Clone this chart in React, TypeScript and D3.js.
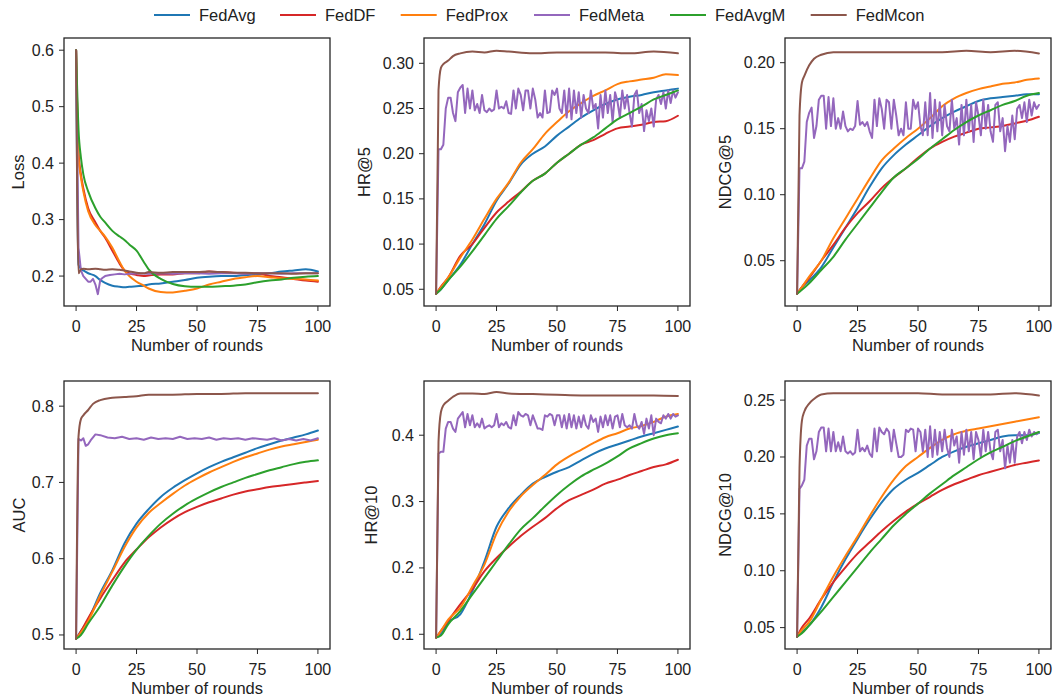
import React from "react";
import * as d3 from "d3";

// ---------- data ----------
const METHODS = ["FedAvg", "FedDF", "FedProx", "FedMeta", "FedAvgM", "FedMcon"];
const COLORS = ["#1f77b4", "#d62728", "#ff7f0e", "#9467bd", "#2ca02c", "#8c564b"];
const X_TICKS = [0, 25, 50, 75, 100];

const ROUNDS_SMOOTH = [0, 2, 5, 10, 15, 20, 25, 30, 35, 40, 45, 50, 55, 60, 65, 70, 75, 80, 85, 90, 95, 100];
const ROUNDS_FAST = [0, 1, 2, 3, 5, 7, 10, 15, 20, 25, 30, 40, 50, 60, 70, 80, 90, 100];
const ROUNDS_LOSS = [0, 1, 2, 3, 5, 8, 10, 12, 15, 18, 20, 22, 25, 28, 30, 35, 40, 45, 50, 55, 60, 65, 70, 75, 80, 85, 90, 95, 100];
const ROUNDS_LOSS_META = [0, 1, 2, 3, 4, 5, 6, 7, 8, 9, 10, 11, 12, 14, 16, 18, 20, 25, 30, 35, 40, 45, 50, 55, 60, 65, 70, 75, 80, 85, 90, 95, 100];
const ROUNDS_AUC_META = [0, 1, 2, 3, 4, 5, 6, 8, 10, 13, 16, 19, 22, 25, 28, 31, 34, 37, 40, 43, 46, 49, 52, 55, 58, 61, 64, 67, 70, 73, 76, 79, 82, 85, 88, 91, 94, 97, 100];
const ROUNDS_EVERY = d3.range(0, 101);

// Loss
const LOSS_FEDAVG = [0.6, 0.22, 0.213, 0.21, 0.205, 0.2, 0.193, 0.188, 0.183, 0.181, 0.18, 0.181, 0.182, 0.183, 0.185, 0.187, 0.19, 0.193, 0.197, 0.199, 0.2, 0.2, 0.202, 0.203, 0.205, 0.208, 0.21, 0.212, 0.208];
const LOSS_FEDDF = [0.6, 0.42, 0.38, 0.355, 0.32, 0.295, 0.28, 0.268, 0.245, 0.222, 0.21, 0.205, 0.202, 0.2, 0.201, 0.203, 0.203, 0.205, 0.205, 0.208, 0.207, 0.206, 0.205, 0.205, 0.2, 0.198, 0.195, 0.192, 0.19];
const LOSS_FEDPROX = [0.6, 0.41, 0.375, 0.35, 0.315, 0.29, 0.28, 0.27, 0.25, 0.225, 0.21, 0.2, 0.19, 0.183, 0.178, 0.172, 0.171, 0.174, 0.178, 0.185, 0.19, 0.195, 0.198, 0.2, 0.198, 0.196, 0.195, 0.194, 0.192];
const LOSS_FEDMETA = [0.6, 0.25, 0.21, 0.2, 0.195, 0.19, 0.19, 0.195, 0.185, 0.168, 0.193, 0.197, 0.2, 0.202, 0.203, 0.204, 0.203, 0.205, 0.204, 0.205, 0.204, 0.205, 0.205, 0.204, 0.205, 0.205, 0.204, 0.205, 0.205, 0.204, 0.205, 0.205, 0.205];
const LOSS_FEDAVGM = [0.6, 0.46, 0.41, 0.38, 0.35, 0.32, 0.305, 0.295, 0.28, 0.27, 0.264, 0.256, 0.245, 0.225, 0.212, 0.195, 0.186, 0.182, 0.181, 0.181, 0.182, 0.183, 0.185, 0.189, 0.192, 0.194, 0.197, 0.199, 0.2];
const LOSS_FEDMCON = [0.6, 0.205, 0.212, 0.213, 0.212, 0.213, 0.212, 0.211, 0.212, 0.211, 0.21, 0.208, 0.206, 0.205, 0.207, 0.206, 0.207, 0.207, 0.207, 0.208, 0.207, 0.206, 0.206, 0.205, 0.205, 0.205, 0.204, 0.205, 0.205];

// HR@5
const HR5_FEDAVG = [0.045, 0.05, 0.06, 0.077, 0.1, 0.122, 0.148, 0.167, 0.188, 0.2, 0.208, 0.22, 0.23, 0.24, 0.248, 0.255, 0.26, 0.263, 0.265, 0.268, 0.27, 0.272];
const HR5_FEDDF = [0.045, 0.053, 0.063, 0.087, 0.1, 0.118, 0.135, 0.147, 0.158, 0.17, 0.178, 0.19, 0.2, 0.21, 0.215, 0.222, 0.228, 0.23, 0.232, 0.235, 0.236, 0.242];
const HR5_FEDPROX = [0.045, 0.052, 0.063, 0.085, 0.105, 0.128, 0.15, 0.168, 0.19, 0.205, 0.222, 0.235, 0.247, 0.256, 0.264, 0.27, 0.277, 0.28, 0.282, 0.284, 0.288, 0.287];
const HR5_FEDMETA = [
  0.045, 0.205, 0.205, 0.21, 0.25, 0.262, 0.262, 0.245, 0.236, 0.268,
  0.273, 0.276, 0.245, 0.272, 0.25, 0.27, 0.248, 0.255, 0.245, 0.265,
  0.248, 0.246, 0.25, 0.247, 0.249, 0.27, 0.25, 0.252, 0.25, 0.258,
  0.245, 0.244, 0.27, 0.25, 0.272, 0.265, 0.248, 0.27, 0.27, 0.25,
  0.272, 0.26, 0.24, 0.245, 0.24, 0.27, 0.245, 0.246, 0.27, 0.265,
  0.272, 0.25, 0.245, 0.27, 0.24, 0.272, 0.238, 0.27, 0.245, 0.268,
  0.24, 0.265, 0.25, 0.245, 0.27, 0.25, 0.255, 0.228, 0.265, 0.24,
  0.27, 0.245, 0.265, 0.235, 0.268, 0.258, 0.24, 0.27, 0.25, 0.265,
  0.245, 0.23, 0.265, 0.27, 0.245, 0.255, 0.225, 0.248, 0.236, 0.25,
  0.23, 0.26, 0.265, 0.255, 0.268, 0.25, 0.27, 0.256, 0.27, 0.262,
  0.268,
];
const HR5_FEDAVGM = [0.045, 0.05, 0.06, 0.075, 0.092, 0.11, 0.128, 0.142, 0.157, 0.17, 0.178, 0.19, 0.2, 0.21, 0.218, 0.228, 0.238, 0.245, 0.252, 0.26, 0.265, 0.27];
const HR5_FEDMCON = [0.045, 0.27, 0.295, 0.299, 0.303, 0.308, 0.311, 0.313, 0.312, 0.314, 0.313, 0.311, 0.312, 0.312, 0.312, 0.311, 0.313, 0.311];

// NDCG@5
const NDCG5_FEDAVG = [0.025, 0.03, 0.035, 0.045, 0.06, 0.075, 0.09, 0.106, 0.12, 0.13, 0.138, 0.145, 0.152, 0.158, 0.163, 0.167, 0.171, 0.173, 0.174, 0.175, 0.176, 0.176];
const NDCG5_FEDDF = [0.025, 0.03, 0.037, 0.05, 0.062, 0.075, 0.086, 0.095, 0.105, 0.113, 0.12, 0.128, 0.135, 0.14, 0.144, 0.147, 0.15, 0.151, 0.152, 0.154, 0.156, 0.159];
const NDCG5_FEDPROX = [0.025, 0.03, 0.038, 0.05, 0.067, 0.082, 0.097, 0.112, 0.126, 0.135, 0.143, 0.15, 0.158, 0.167, 0.173, 0.177, 0.18, 0.182, 0.184, 0.185, 0.187, 0.188];
const NDCG5_FEDMETA = [
  0.025, 0.12, 0.12, 0.125, 0.155, 0.162, 0.166, 0.143, 0.152, 0.172,
  0.175, 0.175, 0.15, 0.174, 0.152, 0.173, 0.15, 0.158, 0.15, 0.163,
  0.152, 0.148, 0.15, 0.149, 0.152, 0.171, 0.153, 0.155, 0.152, 0.155,
  0.148, 0.143, 0.172, 0.152, 0.173, 0.165, 0.15, 0.172, 0.17, 0.15,
  0.172, 0.16, 0.145, 0.15, 0.145, 0.17, 0.15, 0.15, 0.172, 0.165,
  0.17, 0.152, 0.145, 0.17, 0.145, 0.177, 0.143, 0.172, 0.148, 0.17,
  0.145, 0.168, 0.152, 0.148, 0.172, 0.15, 0.158, 0.138, 0.168, 0.145,
  0.172, 0.148, 0.168, 0.14, 0.17, 0.16, 0.145, 0.172, 0.15, 0.168,
  0.148, 0.14, 0.168, 0.17, 0.148, 0.158, 0.133, 0.152, 0.14, 0.16,
  0.142, 0.165, 0.168, 0.158, 0.17, 0.155, 0.172, 0.16, 0.17, 0.165,
  0.168,
];
const NDCG5_FEDAVGM = [0.025, 0.028, 0.033, 0.043, 0.053, 0.066, 0.078, 0.09, 0.102, 0.113, 0.12, 0.127, 0.135, 0.142, 0.149, 0.155, 0.16, 0.164, 0.168, 0.171, 0.175, 0.177];
const NDCG5_FEDMCON = [0.025, 0.16, 0.185, 0.19, 0.198, 0.203, 0.206, 0.208, 0.208, 0.208, 0.208, 0.208, 0.208, 0.208, 0.209, 0.208, 0.209, 0.207];

// AUC
const AUC_FEDAVG = [0.495, 0.505, 0.52, 0.555, 0.585, 0.62, 0.646, 0.665, 0.681, 0.693, 0.703, 0.712, 0.72, 0.727, 0.733, 0.739, 0.745, 0.75, 0.755, 0.759, 0.763, 0.768];
const AUC_FEDDF = [0.495, 0.505, 0.522, 0.548, 0.572, 0.595, 0.612, 0.628, 0.641, 0.652, 0.661, 0.668, 0.674, 0.679, 0.684, 0.688, 0.691, 0.694, 0.696, 0.698, 0.7, 0.702];
const AUC_FEDPROX = [0.495, 0.503, 0.518, 0.552, 0.583, 0.615, 0.641, 0.66, 0.673, 0.685, 0.696, 0.705, 0.713, 0.72, 0.727, 0.733, 0.738, 0.743, 0.747, 0.75, 0.753, 0.756];
const AUC_FEDMETA = [0.495, 0.757, 0.755, 0.758, 0.748, 0.75, 0.755, 0.763, 0.762, 0.759, 0.758, 0.76, 0.757, 0.758, 0.756, 0.759, 0.757, 0.758, 0.757, 0.76, 0.757, 0.758, 0.757, 0.759, 0.756, 0.758, 0.757, 0.758, 0.756, 0.758, 0.757, 0.756, 0.758, 0.755, 0.757, 0.755, 0.757, 0.755, 0.758];
const AUC_FEDAVGM = [0.495, 0.5, 0.515, 0.538, 0.565, 0.59, 0.612, 0.63, 0.646, 0.659, 0.67, 0.679, 0.687, 0.694, 0.7, 0.706, 0.711, 0.716, 0.72, 0.724, 0.727, 0.729];
const AUC_FEDMCON = [0.495, 0.76, 0.783, 0.788, 0.795, 0.803, 0.808, 0.811, 0.812, 0.813, 0.815, 0.815, 0.816, 0.816, 0.817, 0.817, 0.817, 0.817];

// HR@10
const HR10_FEDAVG = [0.095, 0.1, 0.118, 0.13, 0.165, 0.21, 0.262, 0.29, 0.31, 0.327, 0.337, 0.345, 0.352, 0.362, 0.372, 0.38, 0.386, 0.392, 0.398, 0.403, 0.408, 0.413];
const HR10_FEDDF = [0.095, 0.105, 0.12, 0.145, 0.168, 0.195, 0.215, 0.232, 0.248, 0.262, 0.275, 0.29, 0.302, 0.31, 0.318, 0.327, 0.333, 0.34, 0.346, 0.352, 0.356, 0.363];
const HR10_FEDPROX = [0.095, 0.105, 0.122, 0.14, 0.172, 0.205, 0.252, 0.285, 0.308, 0.325, 0.34, 0.356, 0.368, 0.378, 0.388, 0.397, 0.403, 0.41, 0.414, 0.42, 0.428, 0.432];
const HR10_FEDMETA = [
  0.095, 0.372, 0.375, 0.375, 0.41, 0.42, 0.42, 0.41, 0.405, 0.425,
  0.43, 0.435, 0.412, 0.432, 0.415, 0.43, 0.412, 0.418, 0.412, 0.425,
  0.41, 0.413, 0.415, 0.412, 0.415, 0.432, 0.412, 0.418, 0.415, 0.42,
  0.412, 0.41, 0.43, 0.415, 0.435, 0.43, 0.428, 0.432, 0.43, 0.415,
  0.43, 0.42, 0.41, 0.41, 0.408, 0.43, 0.428, 0.432, 0.43, 0.415,
  0.43, 0.43, 0.412, 0.43, 0.41, 0.432, 0.412, 0.43, 0.41, 0.428,
  0.412, 0.43, 0.415, 0.41, 0.43, 0.42, 0.425, 0.405, 0.428, 0.412,
  0.43, 0.415, 0.43, 0.41, 0.428, 0.43, 0.412, 0.432, 0.415, 0.412,
  0.415, 0.41, 0.432, 0.415, 0.41, 0.42, 0.402, 0.425, 0.41, 0.43,
  0.4, 0.425, 0.42, 0.418, 0.43, 0.425, 0.432, 0.425, 0.432, 0.428,
  0.43,
];
const HR10_FEDAVGM = [0.095, 0.098, 0.115, 0.135, 0.16, 0.185, 0.21, 0.235, 0.258, 0.275, 0.293, 0.31, 0.325, 0.338, 0.348, 0.357, 0.368, 0.38, 0.388, 0.395, 0.4, 0.403];
const HR10_FEDMCON = [0.095, 0.39, 0.435, 0.445, 0.452, 0.458, 0.463, 0.463, 0.462, 0.465, 0.463, 0.462, 0.461, 0.46, 0.46, 0.46, 0.46, 0.459];

// NDCG@10
const NDCG10_FEDAVG = [0.042, 0.046, 0.052, 0.068, 0.09, 0.11, 0.128, 0.145, 0.16, 0.172, 0.18, 0.186, 0.193, 0.2, 0.205, 0.209, 0.212, 0.215, 0.218, 0.219, 0.219, 0.221];
const NDCG10_FEDDF = [0.042, 0.05, 0.058, 0.075, 0.09, 0.103, 0.115, 0.125, 0.135, 0.144, 0.152, 0.159, 0.165, 0.171, 0.176, 0.18, 0.184, 0.187, 0.19, 0.193, 0.195, 0.197];
const NDCG10_FEDPROX = [0.042, 0.048, 0.055, 0.075, 0.095, 0.113, 0.13, 0.148, 0.165, 0.18, 0.192, 0.2, 0.208, 0.215, 0.22, 0.223, 0.225, 0.227, 0.229, 0.231, 0.233, 0.235];
const NDCG10_FEDMETA = [
  0.042, 0.172, 0.175, 0.18, 0.21, 0.216, 0.216, 0.198, 0.205, 0.222,
  0.226, 0.226, 0.205, 0.225, 0.205, 0.222, 0.205, 0.213, 0.205, 0.218,
  0.205, 0.203, 0.205, 0.202, 0.204, 0.224, 0.205, 0.208, 0.205, 0.21,
  0.203, 0.2, 0.225, 0.205, 0.226, 0.222, 0.22, 0.225, 0.222, 0.205,
  0.224, 0.212, 0.2, 0.2, 0.202, 0.224, 0.222, 0.225, 0.224, 0.205,
  0.225, 0.222, 0.205, 0.224, 0.2, 0.227, 0.2, 0.224, 0.202, 0.222,
  0.205, 0.224, 0.208, 0.2, 0.224, 0.21, 0.218, 0.195, 0.222, 0.202,
  0.224, 0.205, 0.222, 0.198, 0.222, 0.215, 0.2, 0.224, 0.205, 0.222,
  0.205, 0.198, 0.222, 0.224, 0.205, 0.215, 0.19, 0.21, 0.195, 0.215,
  0.195, 0.218, 0.222, 0.212, 0.222, 0.215, 0.224, 0.218, 0.222, 0.22,
  0.222,
];
const NDCG10_FEDAVGM = [0.042, 0.045, 0.052, 0.064, 0.077, 0.09, 0.103, 0.116, 0.128, 0.14, 0.15, 0.159, 0.168, 0.176, 0.184, 0.191, 0.198, 0.204, 0.209, 0.214, 0.218, 0.222];
const NDCG10_FEDMCON = [0.042, 0.19, 0.232, 0.24, 0.247, 0.251, 0.255, 0.256, 0.256, 0.256, 0.256, 0.256, 0.256, 0.255, 0.255, 0.255, 0.256, 0.254];

// y-axis ticks per panel
const LOSS_TICKS = [0.2, 0.3, 0.4, 0.5, 0.6];
const HR5_TICKS = [0.05, 0.1, 0.15, 0.2, 0.25, 0.3];
const NDCG5_TICKS = [0.05, 0.1, 0.15, 0.2];
const AUC_TICKS = [0.5, 0.6, 0.7, 0.8];
const HR10_TICKS = [0.1, 0.2, 0.3, 0.4];
const NDCG10_TICKS = [0.05, 0.1, 0.15, 0.2, 0.25];

type Series = { xs: number[]; ys: number[] };
type Panel = {
  ylabel: string;
  domain: [number, number];
  ticks: number[];
  digits: number;
  series: Series[]; // in METHODS order
  col: number;
  row: number;
  ylabelX: number;
};

const PANELS: Panel[] = [
  {
    ylabel: "Loss", domain: [0.147, 0.6216], ticks: LOSS_TICKS, digits: 1, col: 0, row: 0, ylabelX: 24,
    series: [
      { xs: ROUNDS_LOSS, ys: LOSS_FEDAVG },
      { xs: ROUNDS_LOSS, ys: LOSS_FEDDF },
      { xs: ROUNDS_LOSS, ys: LOSS_FEDPROX },
      { xs: ROUNDS_LOSS_META, ys: LOSS_FEDMETA },
      { xs: ROUNDS_LOSS, ys: LOSS_FEDAVGM },
      { xs: ROUNDS_LOSS, ys: LOSS_FEDMCON },
    ],
  },
  {
    ylabel: "HR@5", domain: [0.0315, 0.328], ticks: HR5_TICKS, digits: 2, col: 1, row: 0, ylabelX: 370,
    series: [
      { xs: ROUNDS_SMOOTH, ys: HR5_FEDAVG },
      { xs: ROUNDS_SMOOTH, ys: HR5_FEDDF },
      { xs: ROUNDS_SMOOTH, ys: HR5_FEDPROX },
      { xs: ROUNDS_EVERY, ys: HR5_FEDMETA },
      { xs: ROUNDS_SMOOTH, ys: HR5_FEDAVGM },
      { xs: ROUNDS_FAST, ys: HR5_FEDMCON },
    ],
  },
  {
    ylabel: "NDCG@5", domain: [0.0157, 0.2187], ticks: NDCG5_TICKS, digits: 2, col: 2, row: 0, ylabelX: 730.5,
    series: [
      { xs: ROUNDS_SMOOTH, ys: NDCG5_FEDAVG },
      { xs: ROUNDS_SMOOTH, ys: NDCG5_FEDDF },
      { xs: ROUNDS_SMOOTH, ys: NDCG5_FEDPROX },
      { xs: ROUNDS_EVERY, ys: NDCG5_FEDMETA },
      { xs: ROUNDS_SMOOTH, ys: NDCG5_FEDAVGM },
      { xs: ROUNDS_FAST, ys: NDCG5_FEDMCON },
    ],
  },
  {
    ylabel: "AUC", domain: [0.4816, 0.833], ticks: AUC_TICKS, digits: 1, col: 0, row: 1, ylabelX: 25,
    series: [
      { xs: ROUNDS_SMOOTH, ys: AUC_FEDAVG },
      { xs: ROUNDS_SMOOTH, ys: AUC_FEDDF },
      { xs: ROUNDS_SMOOTH, ys: AUC_FEDPROX },
      { xs: ROUNDS_AUC_META, ys: AUC_FEDMETA },
      { xs: ROUNDS_SMOOTH, ys: AUC_FEDAVGM },
      { xs: ROUNDS_FAST, ys: AUC_FEDMCON },
    ],
  },
  {
    ylabel: "HR@10", domain: [0.0778, 0.4817], ticks: HR10_TICKS, digits: 1, col: 1, row: 1, ylabelX: 376.5,
    series: [
      { xs: ROUNDS_SMOOTH, ys: HR10_FEDAVG },
      { xs: ROUNDS_SMOOTH, ys: HR10_FEDDF },
      { xs: ROUNDS_SMOOTH, ys: HR10_FEDPROX },
      { xs: ROUNDS_EVERY, ys: HR10_FEDMETA },
      { xs: ROUNDS_SMOOTH, ys: HR10_FEDAVGM },
      { xs: ROUNDS_FAST, ys: HR10_FEDMCON },
    ],
  },
  {
    ylabel: "NDCG@10", domain: [0.0312, 0.2668], ticks: NDCG10_TICKS, digits: 2, col: 2, row: 1, ylabelX: 731,
    series: [
      { xs: ROUNDS_SMOOTH, ys: NDCG10_FEDAVG },
      { xs: ROUNDS_SMOOTH, ys: NDCG10_FEDDF },
      { xs: ROUNDS_SMOOTH, ys: NDCG10_FEDPROX },
      { xs: ROUNDS_EVERY, ys: NDCG10_FEDMETA },
      { xs: ROUNDS_SMOOTH, ys: NDCG10_FEDAVGM },
      { xs: ROUNDS_FAST, ys: NDCG10_FEDMCON },
    ],
  },
];

// ---------- layout ----------
const W = 1055;
const H = 696;
const COL_LEFT = [64, 424, 785];
const ROW_TOP = [38, 381];
const PW = 266;
const PH = 268;
const FONT = "'Liberation Sans', Arial, Helvetica, sans-serif";
const TEXT = "#222";
const LEGEND_X = [154, 280, 400.7, 534, 670, 810.7];

function PanelView({ p }: { p: Panel }) {
  const left = COL_LEFT[p.col];
  const top = ROW_TOP[p.row];
  const x = d3.scaleLinear().domain([-5, 105]).range([left, left + PW]);
  const y = d3.scaleLinear().domain(p.domain).range([top + PH, top]);
  const fmt = d3.format(`.${p.digits}f`);
  return (
    <g>
      {p.series.map((s, i) => {
        const noisy = s.xs.length > 60 || i === 3;
        const line = d3
          .line<number>()
          .x((_, k) => x(s.xs[k]))
          .y((v) => y(v))
          .curve(noisy ? d3.curveLinear : d3.curveMonotoneX);
        return (
          <path
            key={i}
            d={line(s.ys) || ""}
            fill="none"
            stroke={COLORS[i]}
            strokeWidth={2}
            strokeLinejoin="round"
            strokeLinecap="round"
          />
        );
      })}
      <rect x={left} y={top} width={PW} height={PH} fill="none" stroke="#262626" strokeWidth={1.3} />
      {X_TICKS.map((t) => (
        <g key={"x" + t}>
          <line x1={x(t)} x2={x(t)} y1={top + PH} y2={top + PH + 5} stroke="#262626" strokeWidth={1} />
          <text x={x(t)} y={top + PH + 26} textAnchor="middle" fontSize={16} fill={TEXT} fontFamily={FONT}>
            {t}
          </text>
        </g>
      ))}
      {p.ticks.map((t) => (
        <g key={"y" + t}>
          <line x1={left - 5} x2={left} y1={y(t)} y2={y(t)} stroke="#262626" strokeWidth={1} />
          <text x={left - 10} y={y(t) + 5.5} textAnchor="end" fontSize={16} fill={TEXT} fontFamily={FONT}>
            {fmt(t)}
          </text>
        </g>
      ))}
      <text
        x={left + PW / 2}
        y={top + PH + 44.5}
        textAnchor="middle"
        fontSize={16.5}
        fill={TEXT}
        fontFamily={FONT}
      >
        Number of rounds
      </text>
      <text
        transform={`translate(${p.ylabelX},${top + PH / 2}) rotate(-90)`}
        textAnchor="middle"
        fontSize={16.5}
        fill={TEXT}
        fontFamily={FONT}
      >
        {p.ylabel}
      </text>
    </g>
  );
}

export default function App() {
  return (
    <svg
      width={W}
      height={H}
      viewBox={`0 0 ${W} ${H}`}
      style={{ position: "absolute", left: 0, top: 0, background: "#fff" }}
    >
      <rect x={0} y={0} width={W} height={H} fill="#fff" />
      {METHODS.map((m, i) => (
        <g key={m}>
          <line x1={LEGEND_X[i]} x2={LEGEND_X[i] + 36} y1={15} y2={15} stroke={COLORS[i]} strokeWidth={2.2} />
          <text x={LEGEND_X[i] + 45} y={20.8} fontSize={16.5} fill={TEXT} fontFamily={FONT}>
            {m}
          </text>
        </g>
      ))}
      {PANELS.map((p, i) => (
        <PanelView key={i} p={p} />
      ))}
    </svg>
  );
}
